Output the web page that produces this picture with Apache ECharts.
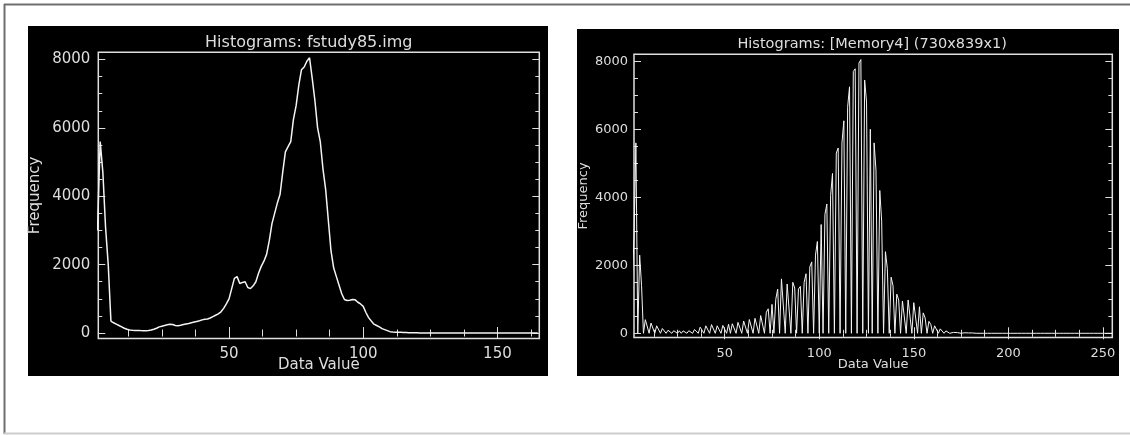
<!DOCTYPE html>
<html><head><meta charset="utf-8">
<script src="https://cdn.jsdelivr.net/npm/echarts@6/dist/echarts.min.js"></script>
<style>html,body{margin:0;padding:0;background:#fff;} #c{width:1130px;height:435px;}</style>
</head><body><div id="c"></div>
<script>
// ---------- texts ----------
const leftTitle = 'Histograms: fstudy85.img';
const rightTitle = 'Histograms: [Memory4] (730x839x1)';
const xName = 'Data Value';
const yName = 'Frequency';

// ---------- data: left histogram (data values 1..165) ----------
const leftStartValue = 1;
const leftFreq = [
  3000, 5600, 4700, 3100, 2000, 350, 300, 260, 220, 180,
  140, 110, 90, 80, 75, 75, 72, 70, 70, 75,
  90, 110, 140, 180, 200, 220, 240, 255, 250, 220,
  215, 230, 250, 265, 280, 300, 320, 340, 360, 385,
  405, 410, 440, 480, 520, 560, 620, 720, 850, 1000,
  1300, 1600, 1650, 1450, 1480, 1500, 1330, 1300, 1380, 1500,
  1750, 1950, 2100, 2300, 2700, 3200, 3500, 3800, 4050, 4700,
  5300, 5450, 5600, 6250, 6650, 7250, 7700, 7780, 7950, 8050,
  7450, 6800, 6000, 5600, 4800, 4200, 3300, 2400, 1900, 1650,
  1400, 1150, 980, 950, 960, 980, 970, 900, 850, 780,
  600, 450, 350, 260, 220, 180, 130, 100, 70, 40,
  30, 25, 20, 20, 15, 15, 10, 10, 5, 5,
  0, 0, 0, 0, 0, 0, 0, 0, 0, 0,
  0, 0, 0, 0, 0, 0, 0, 0, 0, 0,
  0, 0, 0, 0, 0, 0, 0, 0, 0, 0,
  0, 0, 0, 0, 0, 0, 0, 0, 0, 0,
  0, 0, 0, 0, 0
];

// ---------- data: right histogram (data values 0..255) ----------
const rightStartValue = 0;
const rightFreq = [
  0, 0, 2800, 5600, 0, 2300, 1400, 0, 400, 350,
  0, 300, 260, 0, 220, 180, 0, 140, 110, 0,
  90, 80, 0, 75, 75, 0, 72, 0, 70, 70,
  0, 75, 90, 0, 110, 140, 0, 180, 200, 0,
  220, 240, 0, 255, 250, 0, 220, 215, 0, 230,
  250, 0, 265, 0, 280, 300, 0, 320, 340, 0,
  360, 385, 0, 405, 410, 0, 440, 480, 0, 520,
  560, 0, 620, 720, 0, 850, 0, 1000, 1300, 0,
  1600, 1650, 0, 1450, 1480, 0, 1500, 1330, 0, 1300,
  1380, 0, 1500, 1750, 0, 1950, 2100, 0, 2300, 2700,
  0, 3200, 0, 3500, 3800, 0, 4050, 4700, 0, 5300,
  5450, 0, 5600, 6250, 0, 6650, 7250, 0, 7700, 7780,
  0, 7950, 8050, 0, 7450, 6800, 0, 6000, 0, 5600,
  4800, 0, 4200, 3300, 0, 2400, 1900, 0, 1650, 1400,
  0, 1150, 980, 0, 950, 960, 0, 980, 970, 0,
  900, 850, 0, 780, 0, 600, 450, 0, 350, 260,
  0, 220, 180, 0, 130, 100, 0, 70, 40, 0,
  30, 25, 0, 20, 20, 0, 15, 15, 0, 10,
  0, 10, 0, 0, 0, 0, 0, 0, 0, 0,
  0, 0, 0, 0, 0, 0, 0, 0, 0, 0,
  0, 0, 0, 0, 0, 0, 0, 0, 0, 0,
  0, 0, 0, 0, 0, 0, 0, 0, 0, 0,
  0, 0, 0, 0, 0, 0, 0, 0, 0, 0,
  0, 0, 0, 0, 0, 0, 0, 0, 0, 0,
  0, 0, 0, 0, 0, 0, 0, 0, 0, 0,
  0, 0, 0, 0, 0, 0
];

// ---------- ticks ----------
const leftXLabels = [50, 100, 150];
const leftXMinor = [12.5, 25, 37.5, 62.5, 75, 87.5, 112.5, 125, 137.5, 162.5];
const rightXLabels = [50, 100, 150, 200, 250];
const rightXMinor = [12.5, 25, 37.5, 62.5, 75, 87.5, 112.5, 125, 137.5, 162.5, 175, 187.5, 212.5, 225, 237.5];
const yLabels = [0, 2000, 4000, 6000, 8000];
const yMinor = [500, 1000, 1500, 2500, 3000, 3500, 4500, 5000, 5500, 6500, 7000, 7500];

// ---------- style ----------
const FG = '#dedede';
const LINE = '#f4f4f4';
const FONT = 'DejaVu Sans';

const panels = [
  { grid: { left: 98.3, top: 52.3, width: 441, height: 286.2 },
    xmin: 1.3, xmax: 165.6, ymin: -160, ymax: 8210,
    xLabels: leftXLabels, xMinor: leftXMinor,
    fs: 15, titleFs: 16, title: leftTitle, titleGap: 1, titlePad: [0, 20, 0, 0],
    xLabelMargin: 8, xNameGap: 19, yLabelMargin: 8, yNameGap: 56,
    data: leftFreq.map((f, i) => [leftStartValue + i, f]), lw: 1.5 },
  { grid: { left: 634, top: 54.3, width: 478.3, height: 283.2 },
    xmin: 2, xmax: 255, ymin: -124, ymax: 8206,
    xLabels: rightXLabels, xMinor: rightXMinor,
    fs: 13, titleFs: 14.5, title: rightTitle, titleGap: 3, titlePad: [0, 2, 0, 0],
    xLabelMargin: 10, xNameGap: 21, yLabelMargin: 6, yNameGap: 44,
    data: rightFreq.map((f, i) => [rightStartValue + i, f]), lw: 1 }
];

const txt = (fs) => ({ color: FG, fontSize: fs, fontFamily: FONT, fontWeight: 'normal' });
const tick = (vals, len) => ({ show: true, inside: true, length: len, customValues: vals, lineStyle: { color: FG, width: 1 } });
const plain = (v) => String(v);

const grids = [], xAxes = [], yAxes = [], series = [];
panels.forEach((p, i) => {
  grids.push(Object.assign({ show: true, borderColor: FG, borderWidth: 1.5, backgroundColor: 'transparent', containLabel: false }, p.grid));
  const xb = { type: 'value', gridIndex: i, min: p.xmin, max: p.xmax, axisLine: { show: false }, splitLine: { show: false }, nameMoveOverlap: false };
  xAxes.push(Object.assign({}, xb, { position: 'bottom', axisTick: tick(p.xLabels, 6),
    axisLabel: { show: true, customValues: p.xLabels, formatter: plain, margin: p.xLabelMargin, ...txt(p.fs) },
    name: xName, nameLocation: 'middle', nameGap: p.xNameGap, nameTextStyle: txt(p.fs) }));
  xAxes.push(Object.assign({}, xb, { position: 'bottom', axisTick: tick(p.xMinor, 3.5), axisLabel: { show: false } }));
  xAxes.push(Object.assign({}, xb, { position: 'top', axisTick: tick(p.xLabels, 6), axisLabel: { show: false },
    name: p.title, nameLocation: 'middle', nameGap: p.titleGap, nameTextStyle: Object.assign(txt(p.titleFs), { padding: p.titlePad }) }));
  xAxes.push(Object.assign({}, xb, { position: 'top', axisTick: tick(p.xMinor, 3.5), axisLabel: { show: false } }));

  const yb = { type: 'value', gridIndex: i, min: p.ymin, max: p.ymax, axisLine: { show: false }, splitLine: { show: false }, nameMoveOverlap: false };
  yAxes.push(Object.assign({}, yb, { position: 'left', axisTick: tick(yLabels, 7),
    axisLabel: { show: true, customValues: yLabels, formatter: plain, margin: p.yLabelMargin, ...txt(p.fs) },
    name: yName, nameLocation: 'middle', nameRotate: 90, nameGap: p.yNameGap, nameTextStyle: txt(p.fs) }));
  yAxes.push(Object.assign({}, yb, { position: 'left', axisTick: tick(yMinor, 4), axisLabel: { show: false } }));
  yAxes.push(Object.assign({}, yb, { position: 'right', axisTick: tick(yLabels, 7), axisLabel: { show: false } }));
  yAxes.push(Object.assign({}, yb, { position: 'right', axisTick: tick(yMinor, 4), axisLabel: { show: false } }));

  series.push({ type: 'line', xAxisIndex: i * 4, yAxisIndex: i * 4, data: p.data,
    showSymbol: false, symbol: 'none', silent: true, clip: true,
    lineStyle: { color: LINE, width: p.lw } });
});

const chart = echarts.init(document.getElementById('c'), null, { renderer: 'canvas' });
chart.setOption({
  animation: false,
  backgroundColor: '#ffffff',
  graphic: { elements: [
    { type: 'rect', z: -10, silent: true, shape: { x: 28, y: 26, width: 520, height: 350 }, style: { fill: '#000' } },
    { type: 'rect', z: -10, silent: true, shape: { x: 577, y: 29, width: 542, height: 347 }, style: { fill: '#000' } },
    { type: 'line', silent: true, shape: { x1: 4, y1: 4.5, x2: 1130, y2: 4.5 }, style: { stroke: '#6e6e6e', lineWidth: 2 } },
    { type: 'line', silent: true, shape: { x1: 4.5, y1: 4, x2: 4.5, y2: 434 }, style: { stroke: '#6e6e6e', lineWidth: 2 } },
    { type: 'line', silent: true, shape: { x1: 4, y1: 433.5, x2: 1130, y2: 433.5 }, style: { stroke: '#cccccc', lineWidth: 2 } }
  ] },
  grid: grids,
  xAxis: xAxes,
  yAxis: yAxes,
  series: series
});
</script>
</body></html>
